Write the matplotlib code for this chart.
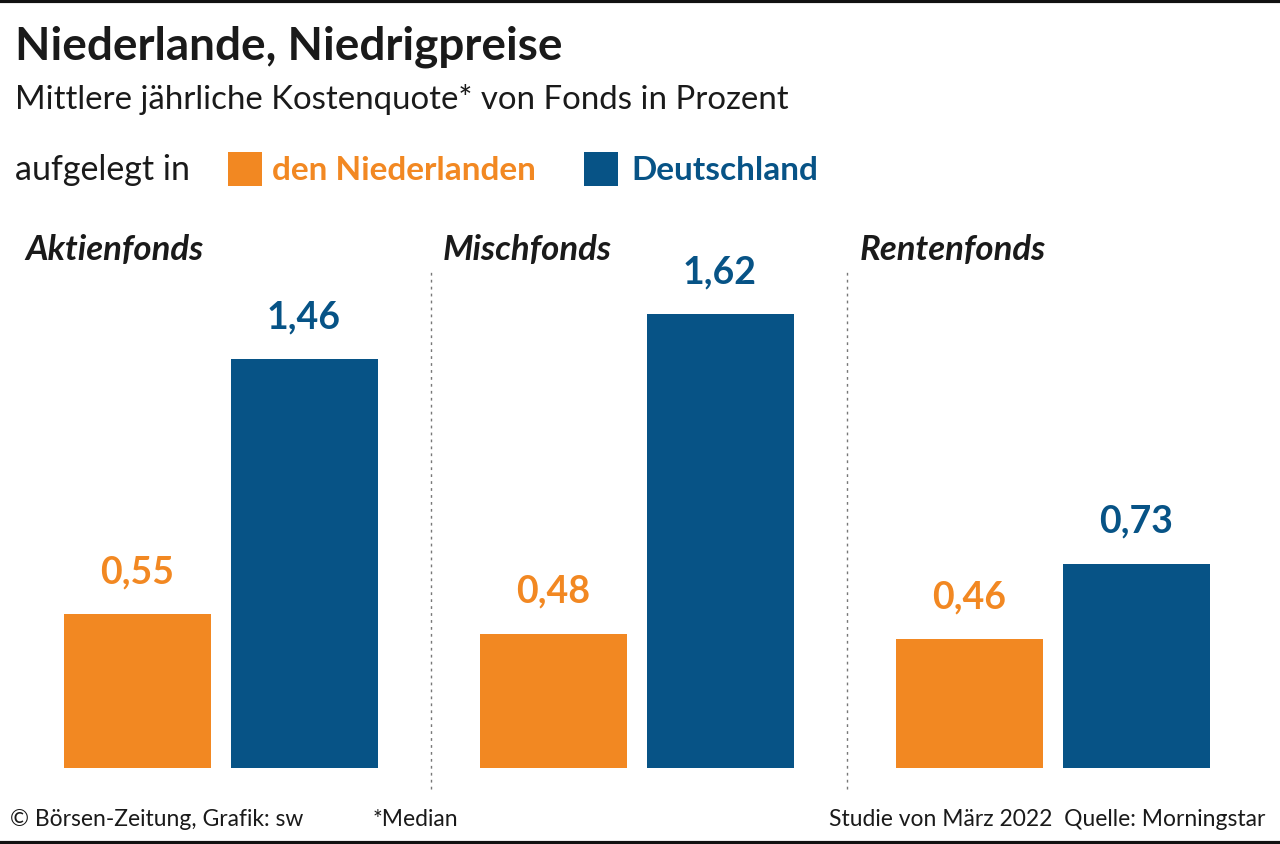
import matplotlib
matplotlib.use("Agg")
import matplotlib.pyplot as plt
from matplotlib.lines import Line2D
from matplotlib.patches import Rectangle

categories = ["Aktienfonds", "Mischfonds", "Rentenfonds"]
series_names = ["den Niederlanden", "Deutschland"]
nl_values = [0.55, 0.48, 0.46]
de_values = [1.46, 1.62, 0.73]
value_labels_nl = ["0,55", "0,48", "0,46"]
value_labels_de = ["1,46", "1,62", "0,73"]

ORANGE = "#F28822"
BLUE = "#075386"
DARK = "#1a1a1a"
FONT = "Lato"

W, H = 1280, 845
fig = plt.figure(figsize=(W / 100, H / 100), dpi=100)
fig.patch.set_facecolor("white")

# axes geometry (pixels): baseline at y=769 from top, 280 px per unit
base_px = 769
ppu = 280.0
ax = fig.add_axes([0, (H - base_px) / H, 1, base_px / H])
group_sp = 416.0
g0 = 220.75
ax.set_xlim(-g0 / group_sp, (W - g0) / group_sp)
ax.set_ylim(0, base_px / ppu)
ax.axis("off")

bw = 147 / group_sp
off = 83.25 / group_sp
xs = list(range(len(categories)))
ax.bar([x - off for x in xs], nl_values, width=bw, color=ORANGE, linewidth=0)
ax.bar([x + off for x in xs], de_values, width=bw, color=BLUE, linewidth=0)

lab_off = 43 / ppu
for x, v, t in zip(xs, nl_values, value_labels_nl):
    ax.text(x - off, v + lab_off, t, ha="center", va="center", fontsize=27,
            fontweight="bold", color=ORANGE, family=FONT)
for x, v, t in zip(xs, de_values, value_labels_de):
    ax.text(x + off, v + lab_off, t, ha="center", va="center", fontsize=27,
            fontweight="bold", color=BLUE, family=FONT)

# separators
for sx in [0.505, 1.505]:
    ax.plot([sx, sx], [-21 / ppu, 499 / ppu], color="#777777", lw=1.0,
            ls=(0, (2, 3)), clip_on=False)

# category headers
cat_x = [25, 443, 860]
for cx, c in zip(cat_x, categories):
    fig.text(cx / W, 1 - 250 / H, c, ha="left", va="center", fontsize=25,
             fontweight="bold", style="italic", color=DARK, family=FONT)

# title / subtitle
fig.text(15 / W, 1 - 47 / H, "Niederlande, Niedrigpreise", ha="left", va="center",
         fontsize=33, fontweight="bold", color=DARK, family=FONT)
fig.text(15 / W, 1 - 100 / H, "Mittlere jährliche Kostenquote* von Fonds in Prozent",
         ha="left", va="center", fontsize=23.8, color=DARK, family=FONT)

# legend
fig.text(15 / W, 1 - 170 / H, "aufgelegt in", ha="left", va="center", fontsize=24.5,
         color=DARK, family=FONT)
for x0, col, name, tx in [(228, ORANGE, series_names[0], 272), (584, BLUE, series_names[1], 631)]:
    fig.patches.append(Rectangle((x0 / W, 1 - 187 / H), 34 / W, 34 / H,
                                 transform=fig.transFigure, color=col, linewidth=0))
    fig.text(tx / W, 1 - 170 / H, name, ha="left", va="center", fontsize=24,
             fontweight="bold", color=col, family=FONT)

# footer
fig.text(10 / W, 1 - 820 / H, "© Börsen-Zeitung, Grafik: sw", ha="left", va="center",
         fontsize=16.5, color=DARK, family=FONT)
fig.text(373 / W, 1 - 820 / H, "*Median", ha="left", va="center",
         fontsize=16.5, color=DARK, family=FONT)
fig.text(1265 / W, 1 - 820 / H, "Studie von März 2022  Quelle: Morningstar", ha="right",
         va="center", fontsize=16.5, color=DARK, family=FONT)

# top and bottom rules
fig.add_artist(Line2D([0, 1], [1 - 1.5 / H, 1 - 1.5 / H], transform=fig.transFigure,
                      color="#111111", lw=3))
fig.add_artist(Line2D([0, 1], [1.5 / H, 1.5 / H], transform=fig.transFigure,
                      color="#111111", lw=3))

fig.savefig("out.png", dpi=100, facecolor="white")
